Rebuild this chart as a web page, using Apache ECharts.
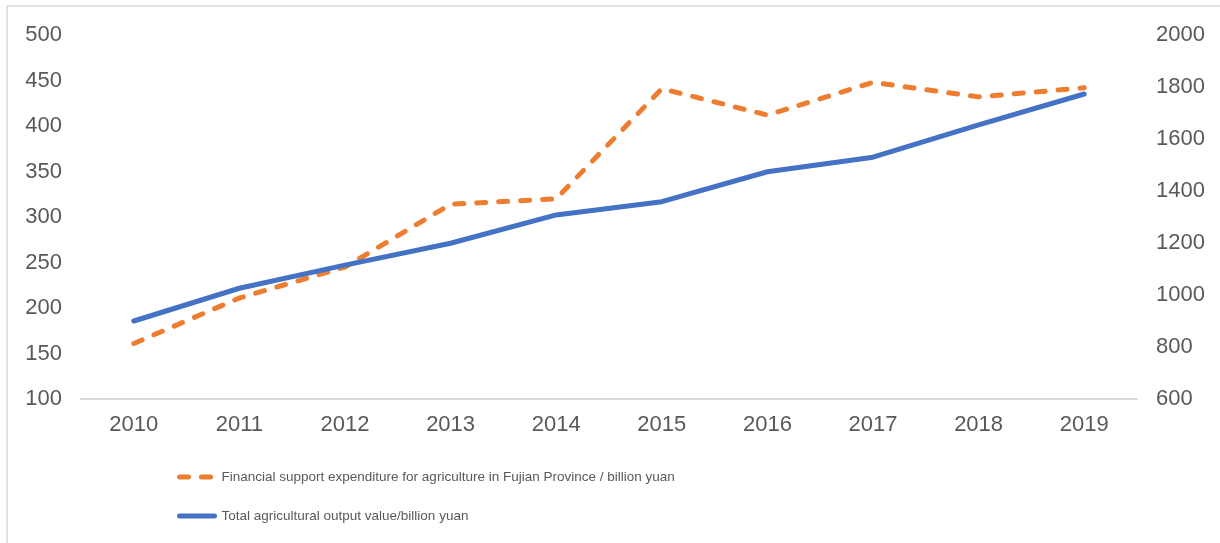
<!DOCTYPE html>
<html>
<head>
<meta charset="utf-8">
<script src="https://cdn.jsdelivr.net/npm/echarts@6/dist/echarts.min.js"></script>
<style>
  html, body { margin: 0; padding: 0; background: #fff; }
  #graphic { width: 1220px; height: 543px; }
</style>
</head>
<body>
<div id="graphic"></div>
<script>
// 数据
var years = ['2010', '2011', '2012', '2013', '2014', '2015', '2016', '2017', '2018', '2019'];
var supportName = 'Financial support expenditure for agriculture in Fujian Province / billion yuan';
var outputName = 'Total agricultural output value/billion yuan';
var supportData = [161, 211, 245, 314, 320, 441, 412, 448, 432, 442];
var outputData = [900, 1026, 1115, 1199, 1308, 1359, 1474, 1530, 1654, 1773];

var textColor = '#595959';
var lineGray = '#D9D9D9';
var fontName = '"Liberation Sans", Arial, sans-serif';

function plainNum(v){
    return String(v);   //不要千位分隔符
}

var option = {
    animation: false,
    backgroundColor: '#fff',
    graphic: [{
        type: 'rect', silent: true,
        shape: { x: 7, y: 6, width: 1230, height: 560 },
        style: { fill: 'none', stroke: lineGray, lineWidth: 1.5 }
    }],
    grid: { left: 81, right: 83, top: 35, bottom: 144 },
    legend: {
        orient: 'vertical',
        left: 172, top: 465,
        itemGap: 25,
        itemWidth: 35, itemHeight: 14,
        itemStyle: { opacity: 0 },
        lineStyle: { width: 5 },
        textStyle: { color: textColor, fontSize: 13.5, fontFamily: fontName, padding: [0, 0, 0, 2] },
        data: [supportName, outputName]
    },
    xAxis: {
        type: 'category',
        data: years,
        axisLine: { lineStyle: { color: lineGray, width: 2 } },
        axisTick: { show: false },
        axisLabel: { color: textColor, fontSize: 22, fontFamily: fontName, margin: 15 }
    },
    yAxis: [{
        type: 'value', min: 100, max: 500, interval: 50,
        axisLine: { show: false }, axisTick: { show: false },
        splitLine: { show: false },
        axisLabel: { color: textColor, fontSize: 22, fontFamily: fontName, margin: 19, formatter: plainNum }
    }, {
        type: 'value', min: 600, max: 2000, interval: 200,
        axisLine: { show: false }, axisTick: { show: false },
        splitLine: { show: false },
        axisLabel: { color: textColor, fontSize: 22, fontFamily: fontName, margin: 19, formatter: plainNum }
    }],
    series: [{
        name: supportName,
        type: 'line', yAxisIndex: 0,
        data: supportData,
        symbol: 'none', showSymbol: false,
        color: '#ED7D31',
        lineStyle: { color: '#ED7D31', width: 5, type: [9, 13], cap: 'round', join: 'round' }
    }, {
        name: outputName,
        type: 'line', yAxisIndex: 1,
        data: outputData,
        symbol: 'none', showSymbol: false,
        color: '#4472C4',
        lineStyle: { color: '#4472C4', width: 5, cap: 'round', join: 'round' }
    }]
};

var graphic = echarts.init(document.getElementById('graphic'));
graphic.setOption(option);
</script>
</body>
</html>
